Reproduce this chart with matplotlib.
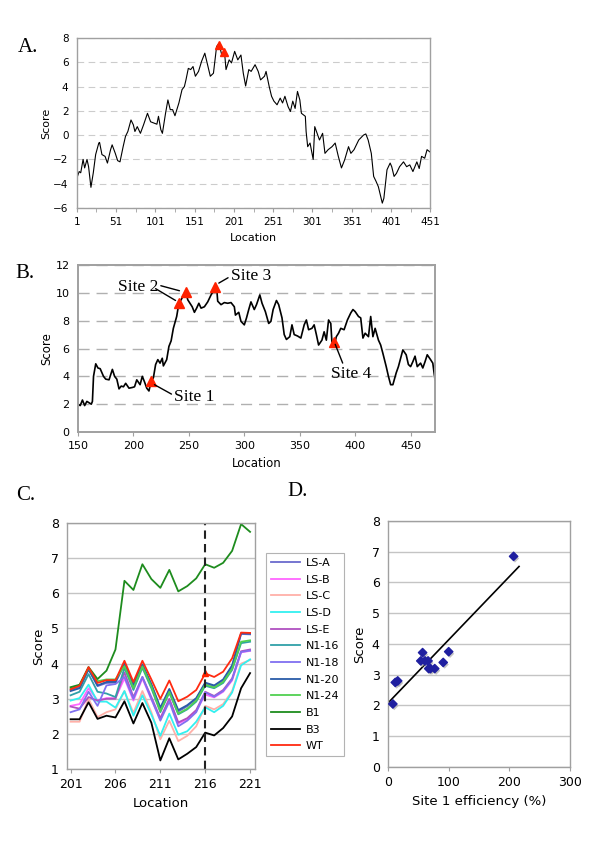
import matplotlib
matplotlib.use('Agg')
import matplotlib.pyplot as plt
import matplotlib.patheffects as pe
import numpy as np

# ---- Panel A: score along the whole sequence
locA = [1, 4, 6, 9, 11, 14, 16, 19, 22, 25, 29, 30, 33, 37, 40, 44, 46, 50, 53, 56,
        60, 63, 66, 70, 73, 75, 78, 82, 86, 91, 95, 99, 103, 105, 108, 110, 114, 117, 120, 123,
        126, 131, 135, 138, 140, 143, 146, 149, 152, 156, 160, 164, 167, 171, 175, 179, 182, 186, 189, 191,
        195, 198, 202, 206, 210, 213, 216, 220, 223, 228, 232, 235, 240, 242, 246, 249, 252, 256, 260, 263,
        266, 270, 273, 276, 279, 282, 285, 287, 292, 293, 295, 298, 302, 304, 307, 310, 314, 317, 321, 326,
        330, 334, 338, 342, 347, 350, 354, 360, 366, 369, 372, 376, 379, 382, 385, 388, 390, 392, 396, 400,
        402, 405, 408, 412, 417, 421, 425, 429, 434, 437, 440, 444, 447, 451]
scoreA = [-3.55, -3.0, -3.1, -2.0, -2.7, -2.0, -2.6, -4.3, -3.1, -1.6, -0.65, -0.6, -1.6, -1.75, -2.3, -1.2, -0.8, -1.5, -2.1, -2.2,
          -0.95, -0.1, 0.3, 1.25, 0.85, 0.3, 0.7, 0.15, 0.85, 1.8, 1.1, 1.0, 0.9, 1.55, 0.45, 0.15, 1.8, 2.9, 2.1, 2.1,
          1.6, 2.65, 3.75, 4.0, 4.55, 5.5, 5.4, 5.65, 4.85, 5.25, 6.1, 6.75, 5.95, 4.85, 5.1, 7.3, 7.55, 6.5, 6.9, 5.4,
          6.2, 5.95, 6.9, 6.2, 6.6, 5.1, 4.05, 5.4, 5.25, 5.8, 5.25, 4.55, 4.85, 5.25, 4.0, 3.2, 2.8, 2.5, 3.05, 2.65,
          3.2, 2.35, 1.95, 2.8, 2.2, 3.6, 2.9, 1.8, 1.55, 0.3, -0.95, -0.65, -2.0, 0.7, 0.15, -0.4, 0.15, -1.5, -1.2, -0.95,
          -0.65, -1.75, -2.7, -2.05, -0.95, -1.5, -1.2, -0.4, 0.0, 0.1, -0.4, -1.5, -3.4, -3.8, -4.25, -5.05, -5.6, -5.2, -2.85, -2.3,
          -2.6, -3.4, -3.15, -2.6, -2.2, -2.6, -2.45, -3.0, -2.2, -2.75, -1.75, -1.9, -1.2, -1.4]
sitesA_loc = [182, 188]
sitesA_score = [7.45, 6.85]

# ---- Panel B: zoom on 150-472
locB = [150, 152, 154, 156, 158, 160, 162, 163, 164, 166, 168, 170, 173, 175, 178, 181, 183, 185, 187, 189,
        191, 193, 196, 199, 201, 203, 206, 208, 210, 212, 214, 216, 218, 220, 222, 224, 226, 227, 230, 232,
        234, 236, 239, 241, 243, 245, 247, 249, 251, 253, 255, 257, 259, 261, 264, 267, 270, 273, 275, 276,
        279, 282, 285, 288, 291, 292, 295, 297, 300, 302, 304, 306, 309, 311, 314, 316, 319, 322, 324, 326,
        329, 331, 334, 336, 338, 341, 343, 345, 348, 351, 354, 356, 358, 361, 363, 365, 367, 370, 372, 374,
        376, 378, 379, 381, 383, 385, 387, 390, 393, 396, 398, 400, 403, 405, 407, 409, 412, 414, 416, 418,
        421, 423, 425, 428, 430, 432, 434, 437, 439, 441, 443, 446, 448, 450, 452, 454, 456, 459, 461, 463,
        465, 468, 470, 472]
scoreB = [2.0, 1.9, 2.3, 1.9, 2.2, 2.1, 2.0, 2.2, 4.0, 4.9, 4.6, 4.55, 4.0, 3.8, 3.75, 4.5, 4.0, 3.8, 3.1, 3.3,
          3.25, 3.5, 3.15, 3.2, 3.25, 3.75, 3.4, 4.0, 3.6, 3.15, 2.95, 3.65, 3.9, 4.85, 5.2, 4.95, 5.3, 4.75, 5.2, 6.15,
          6.55, 7.45, 8.3, 9.25, 9.5, 9.8, 10.1, 9.5, 9.25, 9.0, 8.6, 8.9, 9.25, 8.9, 9.0, 9.35, 9.85, 10.25, 10.45, 9.4,
          9.15, 9.3, 9.25, 9.3, 9.0, 8.4, 8.6, 7.95, 7.7, 8.2, 8.8, 9.35, 8.8, 9.15, 9.85, 9.25, 8.65, 7.8, 7.95, 8.8,
          9.45, 9.15, 8.2, 7.0, 6.65, 6.85, 7.7, 7.0, 6.9, 6.75, 7.7, 8.05, 7.35, 7.45, 7.7, 7.0, 6.25, 6.6, 7.2, 6.6,
          8.05, 7.8, 6.5, 6.15, 6.85, 7.1, 7.45, 7.35, 8.05, 8.55, 8.8, 8.65, 8.3, 8.2, 6.75, 7.1, 6.85, 8.3, 6.85, 7.45,
          6.6, 6.25, 5.65, 4.7, 4.0, 3.4, 3.4, 4.25, 4.7, 5.3, 5.9, 5.55, 4.85, 4.7, 5.05, 5.45, 4.7, 4.95, 4.6, 5.05,
          5.55, 5.2, 4.95, 3.75]
sitesB_loc = [216, 241, 247, 274, 381]
sitesB_score = [3.7, 9.25, 10.05, 10.45, 6.5]

# ---- Panel C: scores per construct, locations 201-221
locC = list(range(201, 222))
seriesC = {
    'LS-A':  [3.25, 3.33, 3.85, 3.36, 3.45, 3.46, 3.97, 3.37, 3.95, 3.38, 2.72, 3.25, 2.64, 2.79, 3.00, 3.44, 3.36, 3.52, 3.92, 4.84, 4.83],
    'LS-B':  [2.80, 2.85, 3.30, 2.95, 3.02, 3.02, 3.58, 2.95, 3.58, 2.98, 2.42, 2.98, 2.30, 2.42, 2.65, 3.12, 3.04, 3.20, 3.52, 4.32, 4.36],
    'LS-C':  [2.35, 2.35, 3.00, 2.48, 2.62, 2.70, 3.22, 2.60, 3.22, 2.62, 1.85, 2.38, 1.80, 1.95, 2.22, 2.80, 2.70, 2.85, 3.22, 4.00, 4.10],
    'LS-D':  [2.95, 3.02, 3.40, 2.92, 2.92, 2.75, 3.22, 2.52, 3.10, 2.55, 1.95, 2.58, 1.98, 2.08, 2.35, 2.76, 2.62, 2.80, 3.18, 3.95, 4.12],
    'LS-E':  [2.78, 2.72, 3.05, 2.95, 3.00, 3.00, 3.75, 3.05, 3.62, 3.05, 2.45, 3.00, 2.33, 2.45, 2.68, 3.20, 3.08, 3.25, 3.58, 4.35, 4.40],
    'N1-16': [3.10, 3.20, 3.70, 3.20, 3.15, 3.05, 3.88, 3.25, 3.88, 3.30, 2.62, 3.17, 2.56, 2.70, 2.92, 3.37, 3.30, 3.45, 3.82, 4.58, 4.62],
    'N1-18': [2.62, 2.70, 3.20, 2.80, 3.38, 3.42, 3.62, 3.00, 3.62, 3.00, 2.38, 2.92, 2.22, 2.38, 2.62, 3.18, 3.06, 3.22, 3.55, 4.33, 4.37],
    'N1-20': [3.22, 3.30, 3.83, 3.38, 3.48, 3.48, 4.00, 3.40, 3.98, 3.42, 2.75, 3.28, 2.68, 2.82, 3.02, 3.46, 3.38, 3.55, 3.95, 4.86, 4.85],
    'N1-24': [3.30, 3.38, 3.88, 3.50, 3.55, 3.55, 3.93, 3.30, 3.92, 3.35, 2.65, 3.20, 2.58, 2.72, 2.95, 3.40, 3.32, 3.48, 3.85, 4.62, 4.66],
    'B1':    [3.33, 3.40, 3.90, 3.56, 3.80, 4.40, 6.35, 6.09, 6.82, 6.40, 6.15, 6.66, 6.05, 6.20, 6.42, 6.82, 6.72, 6.86, 7.20, 7.96, 7.74],
    'B3':    [2.42, 2.42, 2.90, 2.43, 2.52, 2.47, 2.93, 2.30, 2.88, 2.32, 1.25, 1.88, 1.28, 1.44, 1.63, 2.04, 1.96, 2.17, 2.50, 3.30, 3.73],
    'WT':    [3.27, 3.37, 3.90, 3.45, 3.53, 3.53, 4.08, 3.48, 4.08, 3.55, 3.00, 3.52, 2.93, 3.06, 3.25, 3.72, 3.62, 3.77, 4.15, 4.88, 4.87],
}
colorsC = {
    'LS-A': '#6a6acd', 'LS-B': '#ff66ff', 'LS-C': '#ffb0a8', 'LS-D': '#33f0f0',
    'LS-E': '#b050c0', 'N1-16': '#30a0a8', 'N1-18': '#8070f0', 'N1-20': '#2a5ca8',
    'N1-24': '#50d050', 'B1': '#1e8c1e', 'B3': '#000000', 'WT': '#ff2a10',
}
site1_loc = 216

# ---- Panel D: score vs site 1 efficiency
effD = [8, 12, 16, 54, 57, 61, 66, 67, 70, 77, 91, 100, 207]
scoreD = [2.05, 2.75, 2.8, 3.45, 3.72, 3.45, 3.45, 3.2, 3.2, 3.2, 3.4, 3.75, 6.85]
trend_range = [0, 216]

red = '#ff2200'
frame = '#a0a0a0'
serif = ['Liberation Serif', 'DejaVu Serif']

fig = plt.figure(figsize=(6, 8.41), dpi=100)


def style_frame(ax, lw=1.0):
    for s in ax.spines.values():
        s.set_color(frame)
        s.set_linewidth(lw)


# Panel A
axA = fig.add_axes([0.128, 0.7527, 0.589, 0.2021])
axA.plot(locA, scoreA, color='black', linewidth=0.8)
axA.plot(sitesA_loc, sitesA_score, linestyle='none', marker='^', color=red, markersize=5.5)
axA.set_xlim(1, 451)
axA.set_ylim(-6, 8)
axA.set_xticks(range(1, 452, 50))
axA.set_xticks(range(26, 452, 50), minor=True)
axA.set_yticks(range(-6, 9, 2))
axA.yaxis.grid(True, color='#cccccc', linestyle=(0, (6, 4)), linewidth=0.8)
axA.tick_params(axis='both', labelsize=7.5, colors='black')
axA.tick_params(axis='x', which='both', length=3, color=frame)
axA.tick_params(axis='y', length=0, pad=6)
axA.set_xlabel('Location', fontsize=8)
axA.set_ylabel('Score', fontsize=8, labelpad=1)
style_frame(axA)

# Panel B
axB = fig.add_axes([0.130, 0.4863, 0.595, 0.1986])
axB.plot(locB, scoreB, color='black', linewidth=1.2)
axB.plot(sitesB_loc, sitesB_score, linestyle='none', marker='^', color=red, markersize=7)
axB.set_xlim(150, 472)
axB.set_ylim(0, 12)
axB.set_xticks(range(150, 451, 50))
axB.set_yticks(range(0, 13, 2))
axB.yaxis.grid(True, color='#b0b0b0', linestyle=(0, (8, 5)), linewidth=1.0)
axB.tick_params(axis='both', labelsize=8)
axB.tick_params(axis='x', length=3, color=frame)
axB.tick_params(axis='y', length=0, pad=6)
axB.set_xlabel('Location', fontsize=8.5)
axB.set_ylabel('Score', fontsize=8.5, labelpad=2)
style_frame(axB, 1.4)

ann = dict(fontsize=12.5, family=serif, ha='center', va='center')
arr = dict(arrowstyle='-', color='black', linewidth=1.0, shrinkA=0, shrinkB=0)
axB.annotate('Site 1', xy=(219, 3.4), xytext=(255, 2.5), arrowprops=dict(arr, relpos=(0, 0.6)), **ann)
axB.annotate('Site 2', xy=(241.5, 10.15), xytext=(204, 10.45), arrowprops=dict(arr, relpos=(1, 0.6)), **ann)
axB.annotate('', xy=(238, 9.45), xytext=(220, 10.3), arrowprops=arr)
axB.annotate('Site 3', xy=(277, 10.7), xytext=(306, 11.2), arrowprops=dict(arr, relpos=(0, 0.5)), **ann)
axB.annotate('Site 4', xy=(382, 6.3), xytext=(396, 4.15), arrowprops=dict(arr, relpos=(0.3, 1.2)), **ann)

# Panel C
axC = fig.add_axes([0.1117, 0.0853, 0.3133, 0.2932])
for name, vals in seriesC.items():
    axC.plot(locC, vals, color=colorsC[name], linewidth=1.3, label=name)
axC.plot([site1_loc], [seriesC['WT'][locC.index(site1_loc)]], linestyle='none',
         marker='^', color=red, markersize=5)
axC.axvline(site1_loc, color='#222222', linestyle=(0, (4, 2.5)), linewidth=1.5)
axC.set_xlim(200.6, 221.55)
axC.set_ylim(1, 8)
axC.set_xticks(range(201, 222, 5))
axC.set_yticks(range(1, 9))
axC.yaxis.grid(True, color='#c4c4c4', linewidth=1.0)
axC.set_axisbelow(True)
axC.tick_params(axis='both', labelsize=9)
axC.tick_params(axis='x', length=3, color=frame)
axC.tick_params(axis='y', length=0, pad=6)
axC.set_xlabel('Location', fontsize=9.5)
axC.set_ylabel('Score', fontsize=9.5)
style_frame(axC)
leg = axC.legend(loc='upper left', bbox_to_anchor=(0.4433, 0.3424), bbox_transform=fig.transFigure,
                 fontsize=8, frameon=True, fancybox=False, edgecolor=frame, handlelength=2.6,
                 labelspacing=0.6, borderpad=0.45, handletextpad=0.5, borderaxespad=0)
leg.get_frame().set_linewidth(0.8)

# Panel D
axD = fig.add_axes([0.6467, 0.088, 0.3033, 0.2925])
axD.scatter(effD, scoreD, marker='D', s=18, color='#1f1fa0', zorder=3,
            path_effects=[pe.SimplePatchShadow(offset=(1, -1.5), shadow_rgbFace='#aaaaaa', alpha=0.7), pe.Normal()])
slope, intercept = np.polyfit(effD, scoreD, 1)
axD.plot(trend_range, np.polyval([slope, intercept], trend_range), color='black', linewidth=1.2, zorder=2)
axD.set_xlim(0, 300)
axD.set_ylim(0, 8)
axD.set_xticks([0, 100, 200, 300])
axD.set_yticks(range(0, 9))
axD.yaxis.grid(True, color='#c4c4c4', linewidth=1.0)
axD.set_axisbelow(True)
axD.tick_params(axis='both', labelsize=9)
axD.tick_params(axis='x', length=3, color=frame)
axD.tick_params(axis='y', length=0, pad=6)
axD.set_xlabel('Site 1 efficiency (%)', fontsize=9.5)
axD.set_ylabel('Score', fontsize=9.5)
style_frame(axD)

# panel letters
for lab, x, y in [('A.', 18, 48), ('B.', 15, 273), ('C.', 16, 495), ('D.', 287, 492)]:
    fig.text(x / 600, 1 - y / 841, lab, fontsize=15, family=serif, ha='left', va='center')

fig.savefig('out.png', dpi=100, facecolor='white')
